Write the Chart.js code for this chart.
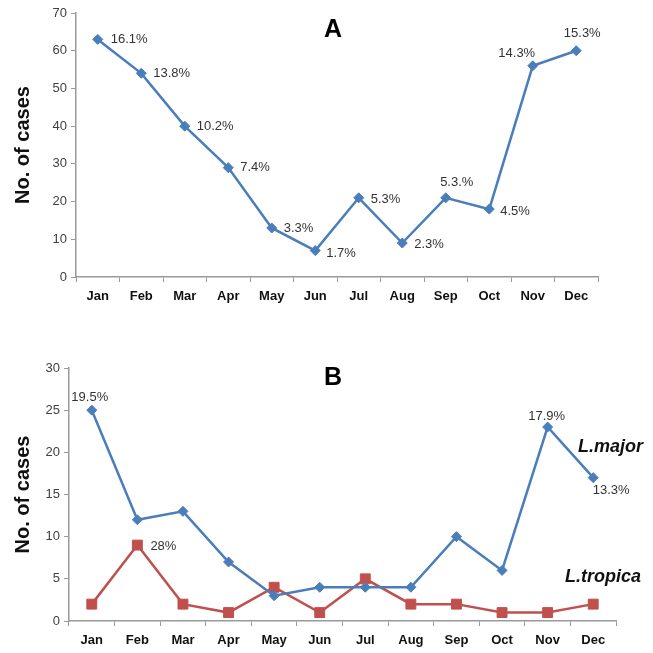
<!DOCTYPE html>
<html>
<head>
<meta charset="utf-8">
<script src="https://cdn.jsdelivr.net/npm/chart.js@4"></script>
<style>
html,body{margin:0;padding:0;background:#fff;}
#wrapA{position:absolute;left:0;top:0;width:653px;height:310px;}
#wrapB{position:absolute;left:0;top:330px;width:653px;height:323px;}
</style>
</head>
<body>
<div id="wrapA"><canvas id="cA" width="653" height="310"></canvas></div>
<div id="wrapB"><canvas id="cB" width="653" height="323"></canvas></div>
<script>
// ---- data ----
const months = ['Jan','Feb','Mar','Apr','May','Jun','Jul','Aug','Sep','Oct','Nov','Dec'];
const casesA = [63, 54, 40, 29, 13, 7, 21, 9, 21, 18, 56, 60];
const pctA = ['16.1%','13.8%','10.2%','7.4%','3.3%','1.7%','5.3%','2.3%','5.3.%','4.5%','14.3%','15.3%'];
const majorB = [25, 12, 13, 7, 3, 4, 4, 4, 10, 6, 23, 17];
const tropicaB = [2, 9, 2, 1, 4, 1, 5, 2, 2, 1, 1, 2];
const pctMajorB = ['19.5%','','','','','','','','','','17.9%','13.3%'];
const pctTropicaB = ['','28%','','','','','','','','','',''];
const yTicksA = [0,10,20,30,40,50,60,70];
const yTicksB = [0,5,10,15,20,25,30];

const FONT = "'Liberation Sans', Arial, sans-serif";
const BLUE = '#4A7EBB';
const RED = '#C0504D';
const AXIS = '#9a9a9a';

// label placement (style only): [dx, dy, align]
const placeA = [[13,0,'left'],[12,0,'left'],[12,0,'left'],[12,0,'left'],[12,0,'left'],[11,3,'left'],
                [12,2,'left'],[12,1,'left'],[11,-15,'center'],[11,2,'left'],[-16,-12,'center'],[6,-17,'center']];
const placeMajorB = {0:[-2,-13,'center'],10:[-1,-11,'center'],11:[18,13,'center']};
const placeTropicaB = {1:[13,1,'left']};

const labelPlugin = {
  id: 'pctLabels',
  afterDatasetsDraw(chart, args, opts) {
    const ctx = chart.ctx;
    ctx.save();
    ctx.font = '13px ' + FONT;
    ctx.fillStyle = '#333';
    ctx.textBaseline = 'middle';
    (opts.sets || []).forEach(s => {
      const meta = chart.getDatasetMeta(s.ds);
      s.texts.forEach((t, i) => {
        if (!t) return;
        const p = s.place[i];
        if (!p) return;
        const pt = meta.data[i];
        ctx.textAlign = p[2];
        ctx.fillText(t, pt.x + p[0], pt.y + p[1]);
      });
    });
    if (opts.title) {
      ctx.font = 'bold 25px ' + FONT;
      ctx.fillStyle = '#000';
      ctx.textAlign = 'center';
      ctx.fillText(opts.title.text, opts.title.x, opts.title.y);
    }
    (opts.series || []).forEach(s => {
      ctx.font = 'italic bold 18px ' + FONT;
      ctx.fillStyle = '#111';
      ctx.textAlign = 'right';
      ctx.fillText(s.text, s.x, s.y);
    });
    ctx.restore();
  }
};

function axes(ticks, yWidth, xHeight) {
  return {
    x: {
      offset: true,
      grid: {display: true, drawOnChartArea: false, drawTicks: true, tickLength: 5, offset: true, color: AXIS},
      border: {color: AXIS, width: 1.5},
      ticks: {color: '#111', font: {family: FONT, size: 13, weight: 'bold'}, padding: 7, maxRotation: 0, autoSkip: false},
      afterFit(s) { s.height = xHeight; }
    },
    y: {
      min: ticks[0], max: ticks[ticks.length - 1],
      afterBuildTicks(s) { s.ticks = ticks.map(v => ({value: v})); },
      grid: {display: true, drawOnChartArea: false, drawTicks: true, tickLength: 5, color: AXIS},
      border: {color: AXIS, width: 1.5},
      ticks: {color: '#404040', font: {family: FONT, size: 13}, padding: 4},
      title: {display: true, text: 'No. of cases', color: '#111', font: {family: FONT, size: 20, weight: 'bold'}, padding: {top: 11, bottom: 0}},
      afterFit(s) { s.width = yWidth; }
    }
  };
}

new Chart(document.getElementById('cA'), {
  type: 'line',
  data: {
    labels: months,
    datasets: [{
      data: casesA, borderColor: BLUE, backgroundColor: BLUE, borderWidth: 2.5,
      pointStyle: 'rectRot', pointRadius: 5, pointBorderWidth: 1, tension: 0
    }]
  },
  options: {
    responsive: false, animation: false, devicePixelRatio: 1,
    layout: {padding: {left: 0, top: 13, right: 55, bottom: 0}},
    plugins: {
      legend: {display: false}, tooltip: {enabled: false},
      pctLabels: {sets: [{ds: 0, texts: pctA, place: placeA}], title: {text: 'A', x: 333, y: 30}}
    },
    scales: axes(yTicksA, 76, 33)
  },
  plugins: [labelPlugin]
});

new Chart(document.getElementById('cB'), {
  type: 'line',
  data: {
    labels: months,
    datasets: [{
      label: 'L.major', data: majorB, borderColor: BLUE, backgroundColor: BLUE, borderWidth: 2.5,
      pointStyle: 'rectRot', pointRadius: 5, pointBorderWidth: 1, tension: 0
    }, {
      label: 'L.tropica', data: tropicaB, borderColor: RED, backgroundColor: RED, borderWidth: 2.5,
      pointStyle: 'rect', pointRadius: 7, pointBorderWidth: 1, tension: 0
    }]
  },
  options: {
    responsive: false, animation: false, devicePixelRatio: 1,
    layout: {padding: {left: 0, top: 38, right: 37, bottom: 0}},
    plugins: {
      legend: {display: false}, tooltip: {enabled: false},
      pctLabels: {
        sets: [{ds: 0, texts: pctMajorB, place: placeMajorB}, {ds: 1, texts: pctTropicaB, place: placeTropicaB}],
        title: {text: 'B', x: 333, y: 48},
        series: [{text: 'L.major', x: 643, y: 117}, {text: 'L.tropica', x: 641, y: 247}]
      }
    },
    scales: axes(yTicksB, 69, 32)
  },
  plugins: [labelPlugin]
});
</script>
</body>
</html>
